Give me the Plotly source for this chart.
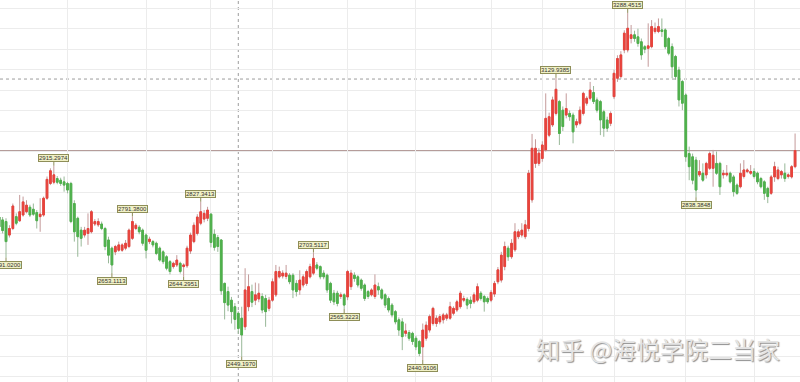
import plotly.graph_objects as go

# ---------------- data ----------------
TRADING_DAYS = {
    "2018-07": [2, 3, 4, 5, 6, 9, 10, 11, 12, 13, 16, 17, 18, 19, 20, 23, 24, 25, 26, 27, 30, 31],
    "2018-08": [1, 2, 3, 6, 7, 8, 9, 10, 13, 14, 15, 16, 17, 20, 21, 22, 23, 24, 27, 28, 29, 30, 31],
    "2018-09": [3, 4, 5, 6, 7, 10, 11, 12, 13, 14, 17, 18, 19, 20, 21, 25, 26, 27, 28],
    "2018-10": [8, 9, 10, 11, 12, 15, 16, 17, 18, 19, 22, 23, 24, 25, 26, 29, 30, 31],
    "2018-11": [1, 2, 5, 6, 7, 8, 9, 12, 13, 14, 15, 16, 19, 20, 21, 22, 23, 26, 27, 28, 29, 30],
    "2018-12": [3, 4, 5, 6, 7, 10, 11, 12, 13, 14, 17, 18, 19, 20, 21, 24, 25, 26, 27, 28],
    "2019-01": [2, 3, 4, 7, 8, 9, 10, 11, 14, 15, 16, 17, 18, 21, 22, 23, 24, 25, 28, 29, 30, 31],
    "2019-02": [1, 11, 12, 13, 14, 15, 18, 19, 20, 21, 22, 25, 26, 27, 28],
    "2019-03": [1, 4, 5, 6, 7, 8, 11, 12, 13, 14, 15, 18, 19, 20, 21, 22, 25, 26, 27, 28, 29],
    "2019-04": [1, 2, 3, 4, 8, 9, 10, 11, 12, 15, 16, 17, 18, 19, 22, 23, 24, 25, 26, 29, 30],
    "2019-05": [6, 7, 8, 9, 10, 13, 14, 15, 16, 17, 20, 21, 22, 23, 24, 27, 28, 29, 30, 31],
    "2019-06": [3, 4, 5, 6, 10, 11, 12, 13, 14, 17, 18, 19, 20],
}
DATES = [f"{m}-{d:02d}" for m, days in TRADING_DAYS.items() for d in days]

OPEN = [
    2800, 2770, 2790, 2783, 2779, 2746, 2762, 2791, 2781, 2795,
    2803, 2814, 2809, 2801, 2791, 2795, 2836, 2872, 2875, 2884,
    2880, 2876, 2872, 2872, 2823, 2787, 2758, 2746, 2750, 2754,
    2773, 2771, 2773, 2762, 2734, 2714, 2705, 2709, 2709, 2714,
    2718, 2738, 2762, 2765, 2758, 2746, 2730, 2730, 2726, 2714,
    2705, 2693, 2681, 2669, 2673, 2677, 2669, 2671, 2707, 2730,
    2750, 2775, 2785, 2787, 2797, 2748, 2740, 2734, 2628, 2608,
    2587, 2571, 2555, 2543, 2522, 2571, 2608, 2587, 2590, 2596,
    2591, 2567, 2587, 2600, 2644, 2646, 2645, 2648, 2648, 2628,
    2612, 2624, 2628, 2644, 2653, 2673, 2669, 2653, 2648, 2628,
    2604, 2604, 2596, 2600, 2595, 2620, 2648, 2644, 2636, 2624,
    2608, 2600, 2596, 2620, 2612, 2600, 2591, 2575, 2559, 2539,
    2534, 2506, 2508, 2506, 2494, 2486, 2473, 2494, 2514, 2530,
    2530, 2534, 2539, 2543, 2543, 2555, 2563, 2571, 2587, 2589,
    2587, 2583, 2587, 2604, 2596, 2591, 2587, 2602, 2632, 2636,
    2669, 2714, 2693, 2710, 2742, 2746, 2742, 2762, 2832, 2921,
    2921, 2933, 2954, 2990, 3015, 3043, 3072, 3051, 3039, 3043,
    3039, 3015, 3019, 3043, 3068, 3080, 3094, 3076, 3072, 3047,
    3027, 3019, 3084, 3129, 3133, 3198, 3198, 3226, 3235, 3230,
    3218, 3206, 3202, 3206, 3243, 3243, 3247, 3247, 3226, 3206,
    3182, 3149, 3121, 3088, 2945, 2937, 2929, 2893, 2897, 2893,
    2909, 2909, 2921, 2921, 2893, 2893, 2897, 2888, 2868, 2864,
    2889, 2901, 2897, 2901, 2897, 2884, 2876, 2860, 2848, 2888,
    2884, 2893, 2897, 2889, 2888, 2913,
]
HIGH = [
    2812, 2790, 2796, 2790, 2787, 2770, 2823, 2799, 2844, 2840,
    2831, 2820, 2823, 2807, 2836, 2840, 2889, 2909, 2915.30, 2890,
    2886, 2889, 2876, 2876, 2831, 2791, 2766, 2766, 2799, 2807,
    2785, 2787, 2779, 2766, 2742, 2718, 2722, 2730, 2726, 2734,
    2762, 2791.38, 2775, 2770, 2762, 2750, 2742, 2734, 2730, 2718,
    2709, 2697, 2685, 2681, 2697, 2681, 2677, 2720, 2752, 2777,
    2797, 2827.34, 2807, 2815, 2800, 2760, 2746, 2736, 2630, 2620,
    2595, 2580, 2560, 2571, 2665, 2650, 2625, 2630, 2628, 2604,
    2600, 2595, 2640, 2673, 2669, 2660, 2673, 2653, 2653, 2636,
    2660, 2650, 2662, 2676, 2703.51, 2680, 2672, 2660, 2652, 2632,
    2612, 2610, 2606, 2604, 2661, 2661, 2655, 2648, 2640, 2628,
    2612, 2616, 2650, 2630, 2616, 2604, 2596, 2580, 2563, 2545,
    2543, 2530, 2514, 2510, 2500, 2490, 2530, 2535, 2552, 2571,
    2550, 2553, 2556, 2556, 2583, 2572, 2588, 2610, 2598, 2594,
    2596, 2606, 2628, 2609, 2600, 2596, 2612, 2634, 2668, 2705,
    2730, 2720, 2736, 2775, 2760, 2775, 2783, 2905, 2993, 2980,
    2958, 2975, 3092, 3045, 3084, 3129.94, 3076, 3060, 3092, 3050,
    3045, 3030, 3060, 3096, 3085, 3120, 3110, 3082, 3076, 3052,
    3035, 3048, 3150, 3185, 3195, 3246, 3288.45, 3259, 3245, 3250,
    3226, 3210, 3263, 3271, 3265, 3275, 3275, 3251, 3230, 3214,
    3186, 3157, 3125, 3092, 2962, 2945, 2937, 2929, 2921, 2925,
    2950, 2954, 2950, 2925, 2905, 2917, 2901, 2893, 2872, 2921,
    2929, 2909, 2917, 2909, 2901, 2888, 2880, 2864, 2893, 2925,
    2913, 2905, 2921, 2897, 2917, 2994,
]
LOW = [
    2770, 2752, 2758, 2750, 2691.02, 2740, 2758, 2770, 2778, 2791,
    2799, 2790, 2793, 2762, 2754, 2791, 2832, 2868, 2870, 2870,
    2866, 2852, 2848, 2775, 2730, 2693, 2718, 2740, 2722, 2750,
    2768, 2766, 2758, 2709, 2677, 2653.11, 2697, 2705, 2705, 2709,
    2714, 2734, 2758, 2748, 2720, 2689, 2724, 2716, 2697, 2681,
    2675, 2660, 2650, 2664, 2668, 2652, 2644.30, 2666, 2700, 2726,
    2745, 2770, 2777, 2780, 2716, 2708, 2705, 2600, 2540, 2560,
    2530, 2515, 2505, 2449.20, 2514, 2560, 2570, 2575, 2582, 2555,
    2522, 2560, 2583, 2595, 2640, 2640, 2638, 2626, 2592, 2596,
    2600, 2618, 2622, 2640, 2648, 2660, 2638, 2638, 2605, 2580,
    2575, 2572, 2590, 2565.32, 2587, 2612, 2632, 2618, 2610, 2585,
    2590, 2596, 2590, 2600, 2588, 2568, 2557, 2545, 2528, 2500,
    2465, 2498, 2488, 2478, 2465, 2450, 2440.91, 2488, 2508, 2525,
    2522, 2528, 2530, 2537, 2539, 2550, 2558, 2566, 2582, 2565,
    2567, 2578, 2582, 2586, 2559, 2578, 2582, 2595, 2626, 2630,
    2660, 2683, 2688, 2705, 2736, 2740, 2736, 2755, 2825, 2910,
    2915, 2925, 2950, 2985, 3010, 3038, 2966, 3000, 3031, 3025,
    2970, 3008, 3014, 3038, 3062, 3075, 3066, 3045, 2990, 2986,
    2998, 3012, 3078, 3120, 3128, 3190, 3192, 3214, 3218, 3206,
    3174, 3190, 3157, 3202, 3238, 3239, 3230, 3200, 3185, 3129,
    3125, 3060, 3051, 2925, 2880, 2870, 2838.38, 2888, 2876, 2884,
    2905, 2864, 2893, 2844, 2884, 2889, 2872, 2840, 2844, 2860,
    2884, 2897, 2893, 2884, 2870, 2860, 2832, 2824, 2844, 2876,
    2880, 2884, 2876, 2884, 2884, 2909,
]
CLOSE = [
    2776, 2786, 2766, 2757, 2730, 2762, 2817, 2775, 2803, 2827,
    2819, 2795, 2797, 2781, 2797, 2836, 2882, 2903, 2893, 2875,
    2872, 2868, 2856, 2779, 2754, 2742, 2738, 2758, 2762, 2803,
    2779, 2779, 2762, 2718, 2697, 2673, 2718, 2722, 2722, 2726,
    2758, 2779, 2770, 2754, 2726, 2709, 2736, 2722, 2701, 2685,
    2681, 2665, 2657, 2677, 2685, 2657, 2673, 2714, 2746, 2770,
    2790, 2803, 2799, 2807, 2728, 2716, 2718, 2610, 2581, 2575,
    2559, 2540, 2518, 2502, 2612, 2620, 2582, 2600, 2604, 2563,
    2559, 2587, 2632, 2657, 2657, 2653, 2653, 2632, 2612, 2608,
    2636, 2644, 2657, 2669, 2689, 2665, 2644, 2644, 2612, 2587,
    2583, 2579, 2600, 2575, 2657, 2653, 2640, 2624, 2616, 2591,
    2596, 2612, 2624, 2612, 2592, 2575, 2563, 2551, 2534, 2514,
    2498, 2512, 2494, 2486, 2473, 2457, 2514, 2526, 2547, 2567,
    2543, 2547, 2551, 2551, 2571, 2567, 2583, 2604, 2591, 2575,
    2579, 2600, 2620, 2591, 2583, 2583, 2606, 2628, 2661, 2697,
    2718, 2693, 2726, 2754, 2754, 2758, 2771, 2897, 2958, 2958,
    2946, 2966, 3031, 3035, 3076, 3102, 2994, 3011, 3055, 3035,
    2998, 3023, 3051, 3092, 3080, 3100, 3072, 3051, 3027, 3007,
    3007, 3043, 3141, 3177, 3186, 3239, 3251, 3235, 3226, 3214,
    3186, 3200, 3208, 3255, 3251, 3255, 3243, 3206, 3190, 3157,
    3133, 3076, 3068, 2937, 2913, 2880, 2856, 2901, 2880, 2921,
    2945, 2941, 2897, 2864, 2897, 2897, 2876, 2852, 2848, 2897,
    2905, 2905, 2901, 2889, 2876, 2864, 2848, 2840, 2888, 2913,
    2905, 2901, 2884, 2893, 2913, 2952.5,
]

# marked highs / lows
LABEL_DATES = ["2018-07-06", "2018-07-26", "2018-08-20", "2018-08-28", "2018-09-18",
               "2018-09-26", "2018-10-19", "2018-11-19", "2018-11-30", "2019-01-04",
               "2019-03-07", "2019-04-08", "2019-05-09"]
LABEL_TEXT = ["2691.0200", "2915.2974", "2653.1113", "2791.3800", "2644.2951",
              "2827.3413", "2449.1970", "2703.5117", "2565.3223", "2440.9106",
              "3129.9385", "3288.4515", "2838.3848"]
LABEL_SIDE = ["low", "high", "low", "high", "low",
              "high", "low", "high", "low", "low",
              "high", "high", "low"]

MONTH_STARTS = ["2018-08-01", "2018-09-03", "2018-10-08", "2018-11-01", "2018-12-03",
                "2019-01-02", "2019-02-01", "2019-03-01", "2019-04-01", "2019-05-06",
                "2019-06-03"]

CROSS_DATE = "2018-10-18"
CROSS_PRICE = 3127
WATERMARK = "知乎 @海悦学院二当家"

# ---------------- styling ----------------
UP = "#e8433c"
DOWN = "#4fb14c"
WICK_UP = "#c49a9a"
WICK_DOWN = "#98b898"
GRID = "#ececec"

fig = go.Figure()

# wicks (full range, muted colour)
fig.add_trace(go.Candlestick(
    x=DATES, open=OPEN, high=HIGH, low=LOW, close=CLOSE,
    increasing=dict(line=dict(color=WICK_UP, width=1), fillcolor=UP),
    decreasing=dict(line=dict(color=WICK_DOWN, width=1), fillcolor=DOWN),
    whiskerwidth=0, showlegend=False, hoverinfo="skip",
))
# bodies on top
body_hi = [max(o, c) for o, c in zip(OPEN, CLOSE)]
body_lo = [min(o, c) for o, c in zip(OPEN, CLOSE)]
fig.add_trace(go.Candlestick(
    x=DATES, open=OPEN, high=body_hi, low=body_lo, close=CLOSE,
    increasing=dict(line=dict(color=UP, width=1), fillcolor=UP),
    decreasing=dict(line=dict(color=DOWN, width=1), fillcolor=DOWN),
    whiskerwidth=0, showlegend=False, hoverinfo="skip",
))

for d, t, side in zip(LABEL_DATES, LABEL_TEXT, LABEL_SIDE):
    i = DATES.index(d)
    yv = HIGH[i] if side == "high" else LOW[i]
    fig.add_annotation(
        x=d, y=yv, text=t, showarrow=True, arrowhead=0, arrowwidth=1,
        arrowcolor="#8e8e58", ax=0, ay=-7.5 if side == "high" else 7.5,
        font=dict(size=6, color="#333333", family="Liberation Sans"),
        bgcolor="#f1f1c6", bordercolor="#8e8e58", borderwidth=1, borderpad=0,
    )

fig.add_annotation(
    xref="paper", yref="paper", x=0.822, y=0.089, xanchor="center", yanchor="middle",
    text=WATERMARK, showarrow=False,
    font=dict(size=24, color="#e4e4e4", family="Noto Sans CJK SC",
              shadow="1px 1px 1px #8e8e8e"),
)

# reference lines
fig.add_shape(type="line", xref="paper", x0=0, x1=1, yref="y", y0=CROSS_PRICE, y1=CROSS_PRICE,
              line=dict(color="#9c9c9c", width=1, dash="3px,3px"), layer="below")
fig.add_shape(type="line", xref="x", x0=CROSS_DATE, x1=CROSS_DATE, yref="paper", y0=0, y1=1,
              line=dict(color="#9c9c9c", width=1, dash="3px,3px"), layer="below")
fig.add_shape(type="line", xref="paper", x0=0, x1=1, yref="y", y0=CLOSE[-1], y1=CLOSE[-1],
              line=dict(color="#b59c9a", width=1), layer="below")

fig.update_layout(
    width=800, height=382, margin=dict(l=0, r=0, t=0, b=0),
    paper_bgcolor="white", plot_bgcolor="white", showlegend=False,
    xaxis=dict(type="category", range=[2.24, 236.44], tickvals=MONTH_STARTS,
               showticklabels=False, ticks="", showgrid=True, gridcolor=GRID, gridwidth=1,
               zeroline=False, showline=False, rangeslider=dict(visible=False)),
    yaxis=dict(range=[2387.2, 3320], tick0=2400, dtick=50, showticklabels=False, ticks="",
               showgrid=True, gridcolor=GRID, gridwidth=1, zeroline=False, showline=False),
)

fig.write_html("out.html")
